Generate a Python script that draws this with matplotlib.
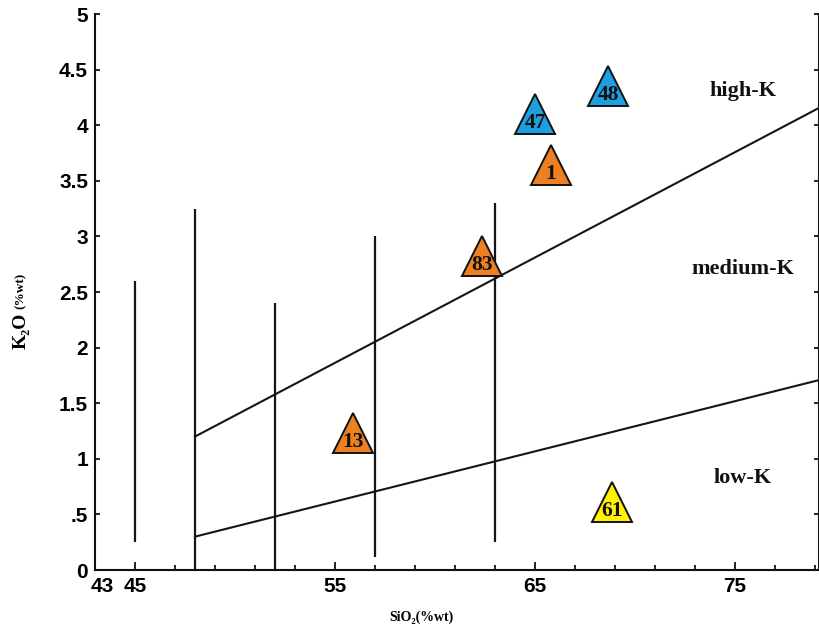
import matplotlib
matplotlib.use("Agg")
import matplotlib.pyplot as plt
import matplotlib.transforms as mtransforms
from matplotlib.ticker import FixedLocator

# samples plotted as triangles
sampleIds = ["48", "47", "1", "83", "13", "61"]
silica = [68.65, 65.0, 65.8, 62.35, 55.9, 68.85]
potash = [4.35, 4.10, 3.64, 2.82, 1.23, 0.61]
sampleColors = ["#1ea0e0", "#1ea0e0", "#ee7f22", "#ee7f22", "#ee7f22", "#fff200"]

# field boundaries (end points)
lowMedX = [48, 79.25]
lowMedY = [0.3, 1.71]
medHighX = [48, 79.25]
medHighY = [1.2, 4.16]

# vertical division lines
divX = [45, 48, 52, 57, 63]
divBottom = [0.25, 0.0, 0.0, 0.12, 0.25]
divTop = [2.6, 3.25, 2.4, 3.0, 3.3]

fieldNames = ["high-K", "medium-K", "low-K"]
fieldX = [75.4, 75.4, 75.4]
fieldY = [4.31, 2.71, 0.83]

xTicks = [43, 45, 55, 65, 75]
xMinor = [47, 49, 51, 53, 57, 59, 61, 63, 67, 69, 71, 73, 77, 79]
yTicks = [0, 0.5, 1, 1.5, 2, 2.5, 3, 3.5, 4, 4.5, 5]
yLabels = ["0", ".5", "1", "1.5", "2", "2.5", "3", "3.5", "4", "4.5", "5"]

serif = ["Liberation Serif", "DejaVu Serif"]
sans = ["Liberation Sans", "DejaVu Sans"]

fig = plt.figure(figsize=(8.19, 6.37), dpi=100)
ax = fig.add_axes([95 / 819, 67 / 637, 724 / 819, 556 / 637])
ax.set_xlim(43, 79.2)
ax.set_ylim(0, 5)

lineColor = "#151515"
ax.plot(lowMedX, lowMedY, color=lineColor, lw=1.5)
ax.plot(medHighX, medHighY, color=lineColor, lw=1.5)
ax.vlines(divX, divBottom, divTop, color=lineColor, lw=1.6)

for i in range(len(sampleIds)):
    ax.plot(silica[i], potash[i], marker="^", ms=28.5, mfc=sampleColors[i],
            mec="#111111", mew=1.4, ls="none", zorder=5)
    ax.annotate(sampleIds[i], (silica[i], potash[i]), xytext=(0, -6.5),
                textcoords="offset points", ha="center", va="center",
                fontsize=15.5, fontweight="bold", family=serif,
                color="#111111", zorder=6)

for name, fx, fy in zip(fieldNames, fieldX, fieldY):
    ax.text(fx, fy, name, ha="center", va="center", fontsize=16,
            fontweight="bold", family=serif, color="#111111")

# axes frame
ax.spines["top"].set_visible(False)
for side in ["left", "bottom", "right"]:
    ax.spines[side].set_linewidth(1.5)
    ax.spines[side].set_color("#111111")

ax.xaxis.set_major_locator(FixedLocator(xTicks))
ax.xaxis.set_minor_locator(FixedLocator(xMinor))
ax.set_xticklabels([str(t) for t in xTicks])
ax.yaxis.set_major_locator(FixedLocator(yTicks))
ax.set_yticklabels(yLabels)

ax.tick_params(axis="x", which="major", direction="in", length=6, width=1.2,
               pad=5, labelsize=15, top=False)
ax.tick_params(axis="x", which="minor", direction="in", length=3.8, width=1.2,
               top=False)
ax.tick_params(axis="y", which="major", direction="in", length=3.8, width=1.2,
               pad=5, labelsize=15, right=True)

for lab in ax.get_xticklabels() + ax.get_yticklabels():
    lab.set_fontweight("bold")
    lab.set_family(sans)

# shift the "43" label a bit to the right, as in the original
firstLabel = ax.get_xticklabels()[0]
shift = mtransforms.ScaledTranslation(7 / 100, 0, fig.dpi_scale_trans)
firstLabel.set_transform(firstLabel.get_transform() + shift)

# axis titles
fig.text(421 / 819, 1 - 617 / 637, "SiO\u2082(%wt)", ha="center", va="center",
         fontsize=10, fontweight="bold", family=serif)
fig.text(21 / 819, 1 - 331 / 637, "K\u2082O", ha="center", va="center",
         rotation=90, fontsize=14, fontweight="bold", family=serif)
fig.text(21 / 819, 1 - 291 / 637, "(%wt)", ha="center", va="center",
         rotation=90, fontsize=9.5, fontweight="bold", family=serif)

fig.savefig("out.png", dpi=100)
